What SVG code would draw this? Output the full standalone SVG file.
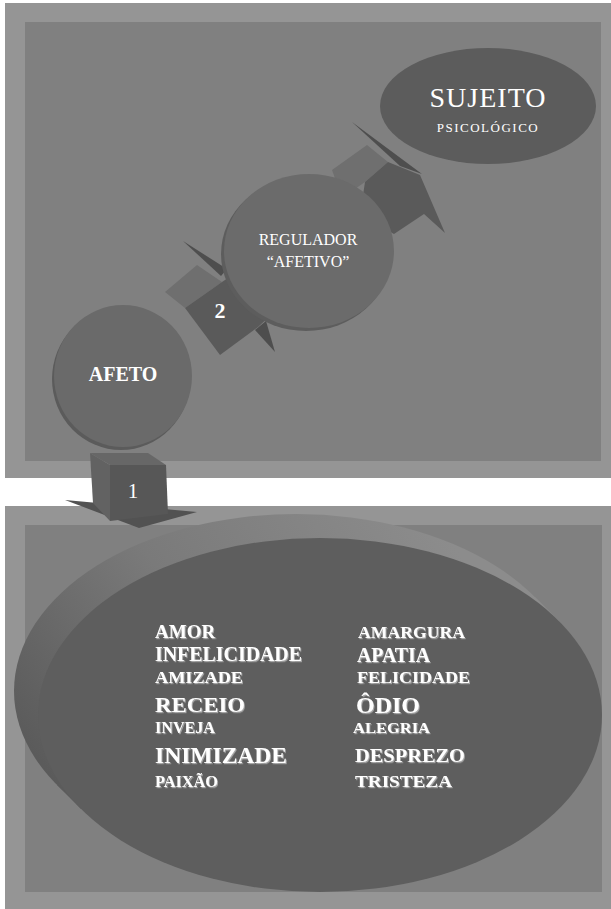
<svg xmlns="http://www.w3.org/2000/svg" width="611" height="909" viewBox="0 0 611 909">
<defs>
<style>
.outer{fill:#959595}
.inner{fill:#808080}
.t{font-family:"Liberation Serif","Times New Roman",serif;fill:#ffffff;text-anchor:middle}
.l{font-family:"Liberation Serif","Times New Roman",serif;fill:#ffffff;font-weight:bold;filter:url(#sh)}
.light{fill:#6f6f6f}
.dark{fill:#5a5a5a}
.spike{fill:#4e4e4e}
</style>
<filter id="sh" x="-5%" y="-20%" width="110%" height="150%">
<feDropShadow dx="1" dy="1.2" stdDeviation="0.4" flood-color="#b0b0b0" flood-opacity="0.9"/>
</filter>
<linearGradient id="side" gradientUnits="userSpaceOnUse" x1="430" y1="514" x2="30" y2="815">
<stop offset="0" stop-color="#8c8c8c"/>
<stop offset="0.5" stop-color="#7a7a7a"/>
<stop offset="1" stop-color="#555555"/>
</linearGradient>
</defs>
<rect width="611" height="909" fill="#ffffff"/>
<g id="panels">
<rect class="outer" x="5" y="3" width="606" height="475"/>
<rect class="inner" x="25" y="22" width="576" height="439"/>
<rect class="outer" x="5" y="506" width="606" height="403"/>
<rect class="inner" x="25" y="525" width="577" height="367"/>
</g>
<g id="node-emocoes">
<ellipse cx="296" cy="691" rx="282" ry="177" fill="url(#side)"/>
<polygon points="559,621 535,597 57,785 81,809" fill="url(#side)"/>
<ellipse cx="320" cy="715" rx="282" ry="177" fill="#5e5e5e"/>
<text class="l" x="155" y="638" font-size="19">AMOR</text>
<text class="l" x="155" y="661" font-size="20" textLength="147" lengthAdjust="spacingAndGlyphs">INFELICIDADE</text>
<text class="l" x="155" y="683" font-size="17" textLength="88" lengthAdjust="spacingAndGlyphs">AMIZADE</text>
<text class="l" x="155" y="712" font-size="22" textLength="90" lengthAdjust="spacingAndGlyphs">RECEIO</text>
<text class="l" x="155" y="733" font-size="16" textLength="60" lengthAdjust="spacingAndGlyphs">INVEJA</text>
<text class="l" x="155" y="763" font-size="24" textLength="132" lengthAdjust="spacingAndGlyphs">INIMIZADE</text>
<text class="l" x="155" y="787" font-size="16" textLength="63" lengthAdjust="spacingAndGlyphs">PAIXÃO</text>
<text class="l" x="358" y="638" font-size="16" textLength="107" lengthAdjust="spacingAndGlyphs">AMARGURA</text>
<text class="l" x="357" y="662" font-size="20" textLength="73" lengthAdjust="spacingAndGlyphs">APATIA</text>
<text class="l" x="357" y="683" font-size="17" textLength="113" lengthAdjust="spacingAndGlyphs">FELICIDADE</text>
<text class="l" x="356" y="713" font-size="23" textLength="64" lengthAdjust="spacingAndGlyphs">ÔDIO</text>
<text class="l" x="353" y="733" font-size="15" textLength="77" lengthAdjust="spacingAndGlyphs">ALEGRIA</text>
<text class="l" x="355" y="762" font-size="19" textLength="110" lengthAdjust="spacingAndGlyphs">DESPREZO</text>
<text class="l" x="355" y="787" font-size="17" textLength="97" lengthAdjust="spacingAndGlyphs">TRISTEZA</text>
</g>
<g id="connectors">
<g id="arrow-1">
<polygon points="65,500 197,512 139,528" fill="#525252"/>
<polygon points="90,453 110,465 110,521 93,503" fill="#626262"/>
<polygon points="90,453 148,453 166,465 110,465" fill="#676767"/>
<polygon points="110,465 166,465 168,514 110,521" fill="#575757"/>
<text class="t" x="133" y="498" font-size="21">1</text>
</g>
<g id="arrow-2">
<polygon class="light" points="165,292 197,265 222,282 185,308"/>
<polygon class="dark" points="185,308 222,282 234,274 270,316 258,327 220,355"/>
<polygon class="spike" points="183,241 227,269 221,276"/>
<polygon class="spike" points="275,352 255,330 266,321"/>
<text class="t" x="220" y="318" font-size="22" font-weight="bold">2</text>
</g>
<g id="arrow-3">
<polygon class="light" points="332,170 367,145 388,162 365,182 342,198"/>
<polygon class="dark" points="365,182 388,162 420,175 445,233 424,214 394,234 360,215"/>
<polygon class="spike" points="352,122 422,174 400,166"/>
</g>
</g>
<g id="node-afeto">
<ellipse cx="121" cy="379" rx="69" ry="71" fill="#5b5b5b"/>
<ellipse cx="123" cy="376" rx="69" ry="71" fill="#6a6a6a"/>
<text class="t" x="123" y="381" font-size="20" font-weight="bold">AFETO</text>
</g>
<g id="node-regulador">
<ellipse cx="306" cy="254" rx="85" ry="77" fill="#5d5d5d"/>
<ellipse cx="309" cy="251" rx="85" ry="77" fill="#6b6b6b"/>
<text class="t" x="308" y="245" font-size="16">REGULADOR</text>
<text class="t" x="308" y="267" font-size="16">“AFETIVO”</text>
</g>
<g id="node-sujeito">
<ellipse cx="488" cy="106" rx="108" ry="58" fill="#5c5c5c"/>
<text class="t" x="488" y="107" font-size="28" letter-spacing="1">SUJEITO</text>
<text class="t" x="488" y="132" font-size="13" letter-spacing="1.5">PSICOLÓGICO</text>
</g>
</svg>
